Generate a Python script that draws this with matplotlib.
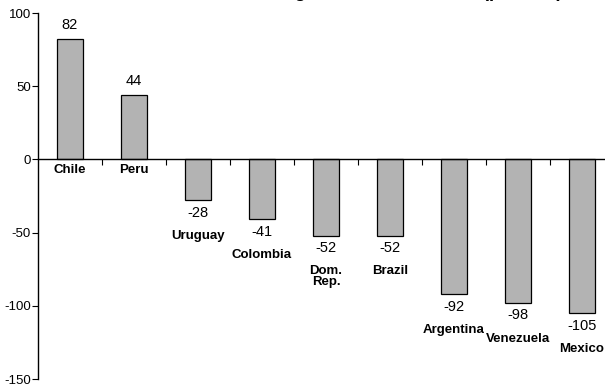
import matplotlib
matplotlib.use('Agg')
import matplotlib.pyplot as plt
import numpy as np

plt.rcParams['font.family'] = ['Liberation Sans Narrow', 'Liberation Sans', 'DejaVu Sans']

countries = ['Chile', 'Peru', 'Uruguay', 'Colombia', 'Dom.\nRep.', 'Brazil',
             'Argentina', 'Venezuela', 'Mexico']
values = [82, 44, -28, -41, -52, -52, -92, -98, -105]
yticks = [100, 50, 0, -50, -100, -150]

fig = plt.figure(figsize=(6.05, 3.86), dpi=100)
ax = fig.add_axes([38/605, 7/386, 1 - 38/605, 366/386])

x = np.arange(len(values))
ax.bar(x, values, width=0.4, color='#b3b3b3', edgecolor='black', linewidth=0.9, zorder=2)

ax.set_ylim(-150, 100)
ax.set_xlim(-0.5, 8.36)
ax.set_yticks(yticks)
ax.set_yticklabels([str(t) for t in yticks], fontsize=9.5)
ax.set_xticks(x[:-1] + 0.5)
ax.set_xticklabels([])
ax.tick_params(axis='x', direction='out', length=4, width=0.8)
ax.tick_params(axis='y', direction='out', length=4, width=0.8, pad=1)

ax.spines['top'].set_visible(False)
ax.spines['right'].set_visible(False)
ax.spines['bottom'].set_position(('data', 0))
ax.spines['left'].set_linewidth(1.0)
ax.spines['bottom'].set_linewidth(1.0)

for xi, v, name in zip(x, values, countries):
    if v > 0:
        ax.annotate(str(v), (xi, v), xytext=(0, 5), textcoords='offset points',
                    ha='center', va='bottom', fontsize=10.5)
        ax.annotate(name, (xi, 0), xytext=(0, -3), textcoords='offset points',
                    ha='center', va='top', fontsize=9.5, fontweight='bold')
    else:
        ax.annotate(str(v), (xi, v), xytext=(0, -4), textcoords='offset points',
                    ha='center', va='top', fontsize=10.5)
        ax.annotate(name, (xi, v), xytext=(0, -21.5), textcoords='offset points',
                    ha='center', va='top', fontsize=9.5, fontweight='bold',
                    linespacing=0.9)

# title sits mostly above the top edge, only descenders show (as in the original)
fig.text(562/605, 1 + 3/386, 'Cumulative Change since end of 2003 (percent)',
         ha='right', va='baseline', fontsize=13.5, fontweight='bold')

fig.savefig('out.png', dpi=100)
